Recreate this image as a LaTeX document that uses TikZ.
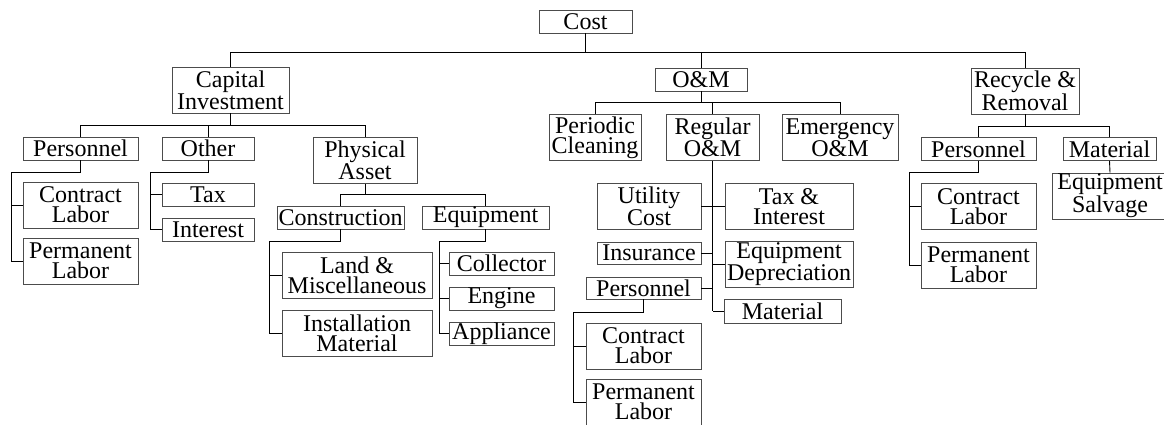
\documentclass[tikz,border=0pt]{standalone}
\usepackage{fontspec}
\setmainfont{Liberation Serif}
\usetikzlibrary{calc}

\begin{document}
\begin{tikzpicture}[x=1pt,y=-1pt,
          box/.style={draw=black!70,line width=0.9pt,inner sep=0pt,align=center,
            font=\fontsize{24}{20}\selectfont},
          one/.style={box,minimum width=#1,minimum height=23},
          two/.style={box,minimum width=#1,minimum height=46},
          link/.style={line width=0.9pt}]
          \useasboundingbox (0,0) rectangle (1164,425);
          \clip (0,0) rectangle (1164,425);
          \node[one=93] (cost) at (585.5,21.5) {Cost};
          \node[two=117] (capinv) at (230.5,90) {Capital\\Investment};
          \node[one=92] (om) at (701,79.5) {O\&M};
          \node[two=108] (recyc) at (1025,91) {Recycle \&\\Removal};
          \node[one=115] (persA) at (80.5,148.5) {Personnel};
          \node[one=92] (other) at (208,148.5) {Other};
          \node[two=104] (phys) at (365,160.5) {Physical\\Asset};
          \node[two=115] (contrA) at (80.5,205) {Contract\\Labor};
          \node[two=115] (permA) at (80.5,261) {Permanent\\Labor};
          \node[one=92] (tax) at (208,194.5) {Tax};
          \node[one=92] (inter) at (208,229.5) {Interest};
          \node[one=127] (constr) at (340.5,217.5) {Construction};
          \node[one=127] (equip) at (485.5,217.5) {Equipment};
          \node[two=150] (land) at (357,275) {Land \&\\Miscellaneous};
          \node[two=150] (instal) at (357,333.5) {Installation\\Material};
          \node[one=105] (collect) at (501.5,263.5) {Collector};
          \node[one=105] (engine) at (501.5,298.5) {Engine};
          \node[one=105] (applnc) at (501.5,333.5) {Appliance};
          \node[two=92] (period) at (595,137.5) {Periodic\\Cleaning};
          \node[two=93] (regom) at (712.5,137.5) {Regular\\O\&M};
          \node[two=116] (emerg) at (840,137.5) {Emergency\\O\&M};
          \node[two=104] (util) at (649,206.5) {Utility\\Cost};
          \node[two=128] (taxint) at (789,206.5) {Tax \&\\Interest};
          \node[one=104,minimum height=22] (insur) at (649,253) {Insurance};
          \node[two=128] (eqdep) at (789,264) {Equipment\\Depreciation};
          \node[one=115,minimum height=22] (persB) at (643.5,288) {Personnel};
          \node[one=117,minimum height=24] (matB) at (782.5,311) {Material};
          \node[two=115] (contrB) at (643.5,346) {Contract\\Labor};
          \node[two=115] (permB) at (643.5,402) {Permanent\\Labor};
          \node[one=115] (persC) at (978.5,149) {Personnel};
          \node[one=93] (matC) at (1109.5,149) {Material};
          \node[two=115] (contrC) at (978.5,206.5) {Contract\\Labor};
          \node[two=115] (permC) at (978.5,265) {Permanent\\Labor};
          \node[two=116] (salvage) at (1110,196) {Equipment\\Salvage};
          \draw[link] (cost.south) -- (cost.south |- 0,52) -| (capinv.north);
          \draw[link] (cost.south |- 0,52) -| (om.north);
          \draw[link] (cost.south |- 0,52) -| (recyc.north);
          \draw[link] (capinv.south) -- (capinv.south |- 0,125) -| (persA.north);
          \draw[link] (capinv.south |- 0,125) -| (other.north);
          \draw[link] (capinv.south |- 0,125) -| (phys.north);
          \draw[link] (persA.south) |- (11,172) |- (contrA.west);
          \draw[link] (11,172) |- (permA.west);
          \draw[link] (other.south) |- (150,172) |- (tax.west);
          \draw[link] (150,172) |- (inter.west);
          \draw[link] (phys.south) -- (phys.south |- 0,194) -| (constr.north);
          \draw[link] (phys.south |- 0,194) -| (equip.north);
          \draw[link] (constr.south) |- (269,241) |- (land.west);
          \draw[link] (269,241) |- (instal.west);
          \draw[link] (equip.south) |- (439,241) |- (collect.west);
          \draw[link] (439,241) |- (engine.west);
          \draw[link] (439,241) |- (applnc.west);
          \draw[link] (om.south) -- (om.south |- 0,102) -| (period.north);
          \draw[link] (om.south |- 0,102) -| (regom.north);
          \draw[link] (om.south |- 0,102) -| (emerg.north);
          \draw[link,line width=1.3pt] (regom.south) -- (regom.south |- matB.west);
          \draw[link] (util.east) -- (taxint.west);
          \draw[link] (insur.east) -- (regom.south |- insur.east);
          \draw[link] (eqdep.west) -- (regom.south |- eqdep.west);
          \draw[link] (persB.east) -- (regom.south |- persB.east);
          \draw[link] (matB.west) -- (regom.south |- matB.west);
          \draw[link] (persB.south) |- (573,312) |- (contrB.west);
          \draw[link] (573,312) |- (permB.west);
          \draw[link] (recyc.south) -- (recyc.south |- 0,126) -| (persC.north);
          \draw[link] (recyc.south |- 0,126) -| (matC.north);
          \draw[link] (persC.south) |- (909,172) |- (contrC.west);
          \draw[link] (909,172) |- (permC.west);
          \draw[link] (matC.south) -- (salvage.north);
        \end{tikzpicture}
\end{document}
